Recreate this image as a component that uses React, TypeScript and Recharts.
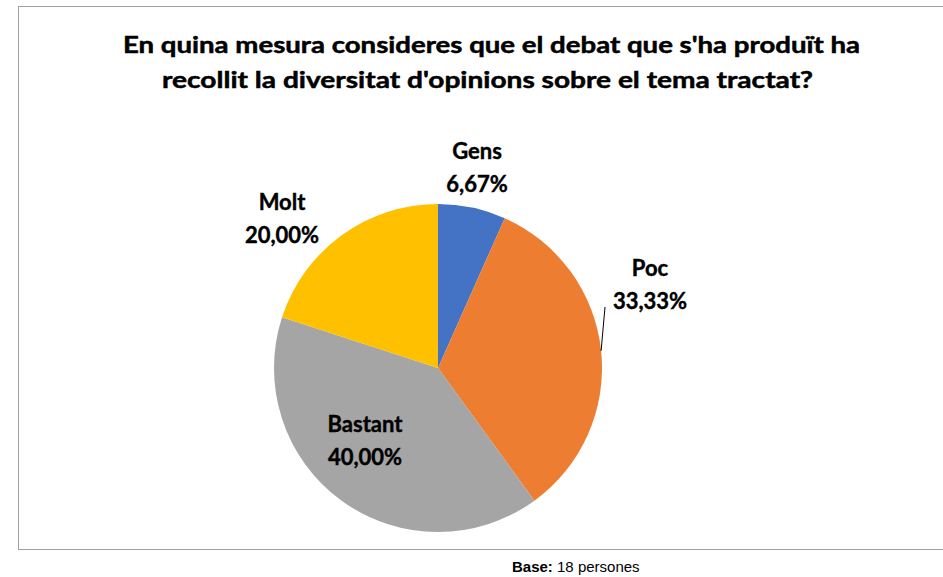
import { PieChart, Pie, Cell } from 'recharts';

const categories = ['Gens', 'Poc', 'Bastant', 'Molt'];
const percentages = [6.67, 33.33, 40.0, 20.0];
const sliceColors = ['#4472C4', '#ED7D31', '#A5A5A5', '#FFC000'];

const titleLines = [
  "En quina mesura consideres que el debat que s'ha produït ha",
  "recollit la diversitat d'opinions sobre el tema tractat?",
];

const data = categories.map((name, i) => ({ name, value: percentages[i] }));

// label centres relative to the pie centre (Excel "best fit" placement)
const LABEL_OFFSETS: [number, number][] = [
  [39, -193],
  [212, -76.5],
  [-73, 79.5],
  [-156, -142],
];
const LEADER = [false, true, false, false];

const RADIAN = Math.PI / 180;
const FONT = 'Lato, "Open Sans", sans-serif';

function formatPct(v: number) {
  return `${v.toFixed(2).replace('.', ',')}%`;
}

function renderLabel(props: any) {
  const { cx, cy, midAngle, outerRadius, index, value } = props;
  const [dx, dy] = LABEL_OFFSETS[index];
  const x = cx + dx;
  const y = cy + dy;
  const ex = cx + outerRadius * Math.cos(-midAngle * RADIAN);
  const ey = cy + outerRadius * Math.sin(-midAngle * RADIAN);
  const textProps = {
    textAnchor: 'middle' as const,
    fontFamily: FONT,
    fontWeight: 700,
    fontSize: 22,
    fill: '#000',
    stroke: '#000',
    strokeWidth: 0.4,
  };
  return (
    <g key={`lbl-${index}`}>
      {LEADER[index] && (
        <line x1={ex} y1={ey} x2={x - 45} y2={y + 15.5} stroke="#000" strokeWidth={1} />
      )}
      <text x={x} y={y - 16} {...textProps}>
        {categories[index]}
      </text>
      <text x={x} y={y + 17} {...textProps}>
        {formatPct(value)}
      </text>
    </g>
  );
}

export default function App() {
  return (
    <div style={{ position: 'absolute', left: 0, top: 0, width: 943, height: 577, background: '#fff' }}>
      <div
        style={{
          position: 'absolute', left: 18, top: 6, width: 940, height: 544,
          border: '1.5px solid #a0a0a0', boxSizing: 'border-box',
        }}
      />
      <div style={{ position: 'absolute', left: 0, top: 0 }}>
        <PieChart width={943} height={577} margin={{ top: 0, right: 0, bottom: 0, left: 0 }}>
          <Pie
            data={data}
            dataKey="value"
            nameKey="name"
            cx={438}
            cy={368}
            outerRadius={164}
            startAngle={90}
            endAngle={-270}
            stroke="none"
            label={renderLabel}
            labelLine={false}
            isAnimationActive={false}
          >
            {data.map((d, i) => (
              <Cell key={d.name} fill={sliceColors[i]} />
            ))}
          </Pie>
        </PieChart>
      </div>
      <svg width={943} height={577} style={{ position: 'absolute', left: 0, top: 0, pointerEvents: 'none' }}>
        <text x={491.5} y={53} textAnchor="middle" fontFamily={FONT} fontWeight={700} fontSize={23}
          textLength={737} lengthAdjust="spacingAndGlyphs" fill="#000" stroke="#000" strokeWidth={0.5}>
          {titleLines[0]}
        </text>
        <text x={487.5} y={88} textAnchor="middle" fontFamily={FONT} fontWeight={700} fontSize={23}
          textLength={651} lengthAdjust="spacingAndGlyphs" fill="#000" stroke="#000" strokeWidth={0.5}>
          {titleLines[1]}
        </text>
        <text x={512} y={572} fontFamily='"Liberation Sans", Arial, sans-serif' fontSize={15} fill="#000">
          <tspan fontWeight={700}>Base:</tspan> 18 persones
        </text>
      </svg>
    </div>
  );
}
